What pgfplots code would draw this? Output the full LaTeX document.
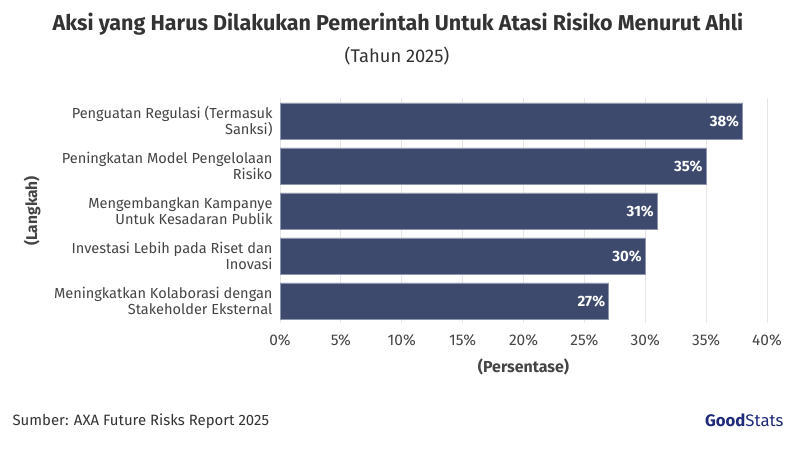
\documentclass[border=0pt]{standalone}
\usepackage{pgfplots}
\pgfplotsset{compat=1.18}
\usepackage{fontspec}
\setmainfont{Fira Sans}
\definecolor{barc}{HTML}{3D4A6E}
\definecolor{bared}{HTML}{8E96AE}
\definecolor{txt}{HTML}{444444}
\definecolor{ttl}{HTML}{333333}
\definecolor{gridc}{HTML}{E6E6E6}
\definecolor{navy}{HTML}{1F2A7A}
\begin{document}
\begin{tikzpicture}[x=1bp,y=1bp]
\path[use as bounding box] (0,0) rectangle (795,450);
\begin{axis}[
  at={(280bp,126.5bp)}, anchor=south west,
  scale only axis, width=487bp, height=225bp,
  xbar, bar width=36bp,
  xmin=0, xmax=40, ymin=-0.5, ymax=4.5,
  y dir=reverse,
  xtick={0,5,...,40},
  xticklabel={\pgfmathprintnumber{\tick}\%},
  /pgf/number format/assume math mode=true,
  xticklabel style={font=\fontsize{15.5}{17}\selectfont, text=txt, anchor=center, at={(xticklabel cs:0)}, yshift=-16.5bp},
  ytick={0,1,2,3,4},
  yticklabels={{Penguatan Regulasi (Termasuk\\Sanksi)},{Peningkatan Model Pengelolaan\\Risiko},{Mengembangkan Kampanye\\Untuk Kesadaran Publik},{Investasi Lebih pada Riset dan\\Inovasi},{Meningkatkan Kolaborasi dengan\\Stakeholder Eksternal}},
  yticklabel style={align=right, font=\fontsize{14.6}{16}\selectfont, text=txt, xshift=-4bp},
  major tick length=0pt,
  xmajorgrids, grid style={gridc, line width=0.8pt},
  axis line style={draw=none},
  nodes near coords={\pgfmathprintnumber{\pgfplotspointmeta}\%},
  nodes near coords style={anchor=east, xshift=0bp, font=\bfseries\fontsize{15}{16}\selectfont, text=white},
  point meta=x,
  xlabel={(Persentase)}, ylabel={(Langkah)},
  xlabel style={font=\bfseries\fontsize{16}{18}\selectfont, text=txt, at={(axis description cs:0.5,-0.193)}, anchor=center},
  ylabel style={font=\bfseries\fontsize{15.6}{18}\selectfont, text=txt, at={(axis description cs:-0.509,0.5)}, anchor=center},
  clip=false,
]
\addplot[fill=barc, draw=bared, line width=0.6pt] coordinates {(38,0) (35,1) (31,2) (30,3) (27,4)};
\end{axis}
\node[font=\fontsize{21.6}{24}\selectfont\bfseries, text=ttl] at (398,426) {Aksi yang Harus Dilakukan Pemerintah Untuk Atasi Risiko Menurut Ahli};
\node[font=\fontsize{18.4}{20}\selectfont, text=ttl] at (397,394) {(Tahun 2025)};
\node[font=\fontsize{15}{17}\selectfont, text=ttl, anchor=west] at (9,29) {Sumber: AXA Future Risks Report 2025};
\node[font=\fontsize{16.8}{19}\selectfont, text=navy, anchor=east] at (787,30) {\textbf{Good}Stats};
\end{tikzpicture}
\end{document}
